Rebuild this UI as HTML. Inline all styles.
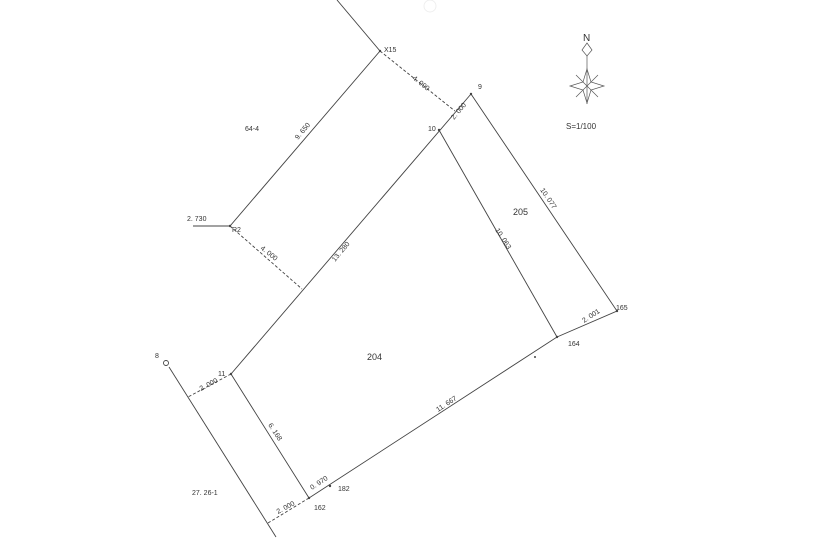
<!DOCTYPE html>
<html><head><style>body{margin:0;background:#fff}svg{display:block}text{font-family:"Liberation Sans",sans-serif;font-size:7px;fill:#333}</style></head><body>
<svg width="819" height="544" viewBox="0 0 819 544" xmlns="http://www.w3.org/2000/svg">
<g stroke="#444" stroke-width="0.9" fill="none">
<path d="M337 0 L380 51 L230 226 L193 226"/>
<path d="M471 94 L231 374 L309 498 L557 337 L617 311 L471 94"/>
<path d="M439 130 L557 337"/>
<path d="M169 367 L276 537"/>
<circle cx="166" cy="363" r="2.5"/>
<g stroke-dasharray="3,2"><path d="M380 51 L455 111"/><path d="M230 226 L302 289"/><path d="M231 374 L188 397"/><path d="M309 498 L268 523"/></g>
<circle cx="430" cy="6" r="6" stroke="#eee"/>
</g>
<g fill="#444">
<circle cx="380" cy="51" r="1.2"/><circle cx="230" cy="226" r="1.2"/><circle cx="471" cy="94" r="1.2"/><circle cx="439" cy="130" r="1.2"/><circle cx="231" cy="374" r="1.2"/><circle cx="309" cy="498" r="1.2"/><circle cx="330" cy="486" r="1.2"/><circle cx="557" cy="337" r="1.2"/><circle cx="617" cy="311" r="1.2"/><circle cx="535" cy="357" r="1"/>
</g>
<text x="384" y="52">X15</text><text x="478" y="89">9</text><text x="428" y="131">10</text><text x="232" y="232">R2</text><text x="218" y="376">11</text><text x="155" y="358">8</text>
<text x="314" y="510">162</text><text x="338" y="491">182</text><text x="568" y="346">164</text><text x="616" y="310">165</text>
<text x="187" y="221">2. 730</text><text x="245" y="131">64-4</text><text x="192" y="495">27. 26-1</text>
<text x="513" y="215" style="font-size:9px">205</text><text x="367" y="360" style="font-size:9px">204</text>
<text transform="translate(298,140) rotate(-50)">9. 650</text>
<text transform="translate(335,262) rotate(-50)">13. 280</text>
<text transform="translate(454,120) rotate(-50)">2. 000</text>
<text transform="translate(584,323) rotate(-33)">2. 001</text>
<text transform="translate(438,412) rotate(-33)">11. 667</text>
<text transform="translate(312,490) rotate(-33)">0. 970</text>
<text transform="translate(201,391) rotate(-28)">2. 000</text>
<text transform="translate(278,514) rotate(-28)">2. 000</text>
<text transform="translate(412,79) rotate(38)">4. 000</text>
<text transform="translate(260,249) rotate(38)">4. 000</text>
<text transform="translate(540,190) rotate(56)">10. 077</text>
<text transform="translate(495,230) rotate(57)">10. 063</text>
<text transform="translate(268,425) rotate(57)">6. 168</text>
<text x="583" y="41" style="font-size:10px">N</text>
<g stroke="#555" stroke-width="0.7" fill="none">
<path d="M587 43 L592 50 L587 56 L582 50 Z"/><path d="M587 56 L587 104"/>
<path d="M587 69 L591 82 L604 86 L591 90 L587 103 L583 90 L570 86 L583 82 Z"/>
<path d="M576 75 L598 97 M598 75 L576 97"/>
</g>
<text x="566" y="129" style="font-size:8px">S=1/100</text>
</svg>
</body></html>
